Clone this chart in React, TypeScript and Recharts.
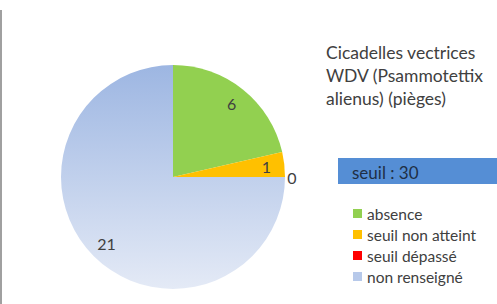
import { PieChart, Pie, Cell } from 'recharts'

const categories = ['absence', 'seuil non atteint', 'seuil dépassé', 'non renseigné']
const counts = [6, 1, 0, 21]
const sliceColors = ['#92d050', '#ffc000', '#ff0000', 'url(#blueFade)']
const legendColors = ['#92d050', '#ffc000', '#ff0000', '#b7c9ea']
const titleLines = ['Cicadelles vectrices', 'WDV (Psammotettix', 'alienus) (pièges)']
const thresholdLabel = 'seuil : 30'

const data = categories.map((name, i) => ({ name, value: counts[i] }))
const RAD = Math.PI / 180
const font = 'Lato, "Open Sans", sans-serif'

const renderLabel = (p: any) => {
  const { cx, cy, midAngle, outerRadius, value } = p
  const r = value === 0 ? outerRadius + 7 : outerRadius * 0.84
  const x = cx + r * Math.cos(-midAngle * RAD)
  const y = cy + r * Math.sin(-midAngle * RAD)
  return (
    <text x={x} y={y} textAnchor="middle" dominantBaseline="central" fill="#404040" fontSize={16} fontFamily={font}>
      {value}
    </text>
  )
}

export default function App() {
  return (
    <div style={{ position: 'absolute', left: 0, top: 0, width: 497, height: 304, background: '#fff', fontFamily: font }}>
      <div style={{ position: 'absolute', left: 0, top: 10, width: 2, height: 294, background: '#a0a0a0' }} />
      <PieChart width={497} height={304} margin={{ top: 0, right: 0, bottom: 0, left: 0 }}>
        <defs>
          <linearGradient id="blueFade" x1="0" y1="0" x2="0" y2="1">
            <stop offset="0%" stopColor="#9db6e2" />
            <stop offset="100%" stopColor="#e4eaf6" />
          </linearGradient>
        </defs>
        <Pie
          data={data}
          dataKey="value"
          cx={173}
          cy={177}
          outerRadius={112}
          startAngle={90}
          endAngle={-270}
          stroke="none"
          label={renderLabel}
          labelLine={false}
          isAnimationActive={false}
        >
          {data.map((d, i) => (
            <Cell key={d.name} fill={sliceColors[i]} />
          ))}
        </Pie>
      </PieChart>
      <div style={{ position: 'absolute', left: 326, top: 41, fontSize: 17.5, lineHeight: '23px', color: '#404040' }}>
        {titleLines.map((t) => (
          <div key={t}>{t}</div>
        ))}
      </div>
      <div style={{ position: 'absolute', left: 338, top: 158, width: 159, height: 26, background: '#558ed5' }}>
        <div style={{ position: 'absolute', left: 14, top: 5, fontSize: 17, lineHeight: '20px', color: '#1f2f44' }}>{thresholdLabel}</div>
      </div>
      <div style={{ position: 'absolute', left: 353, top: 203 }}>
        {categories.map((c, i) => (
          <div key={c} style={{ display: 'flex', alignItems: 'center', height: 21, fontSize: 15.5, color: '#404040' }}>
            <span style={{ display: 'inline-block', width: 9, height: 9, background: legendColors[i], marginRight: 5 }} />
            {c}
          </div>
        ))}
      </div>
    </div>
  )
}
